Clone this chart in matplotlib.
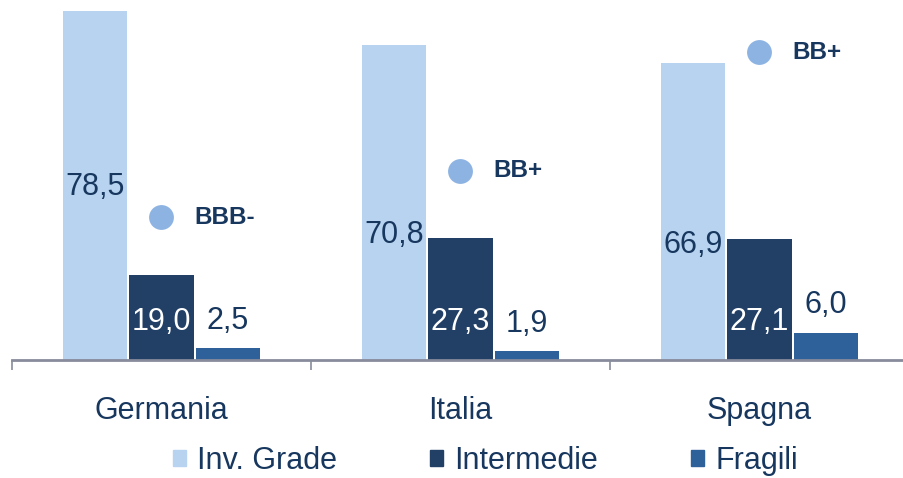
import numpy as np
import matplotlib.pyplot as plt
from matplotlib.patches import Patch

paesi = ['Germania', 'Italia', 'Spagna']
serie = ['Inv. Grade', 'Intermedie', 'Fragili']
inv_grade = [78.5, 70.8, 66.9]
intermedie = [19.0, 27.3, 27.1]
fragili = [2.5, 1.9, 6.0]
rating = ['BBB-', 'BB+', 'BB+']
rating_pos = [32.1, 42.5, 69.2]

c_light = '#B7D3F0'
c_dark = '#223F66'
c_mid = '#2E6099'
c_dot = '#8DB3E2'
c_text = '#17375E'

plt.rcParams['font.family'] = ['Liberation Sans', 'DejaVu Sans']

def fmt(v):
    return f'{v:.1f}'.replace('.', ',')

fig = plt.figure(figsize=(9.04, 4.78), dpi=100)
ax = fig.add_axes([12 / 904, 118.5 / 478, 897 / 904, 359.5 / 478])

x = np.arange(len(paesi))
w = 0.215
off = 0.222
ax.bar(x - off, inv_grade, w, color=c_light)
ax.bar(x, intermedie, w, color=c_dark)
ax.bar(x + off, fragili, w, color=c_mid)

# posizione etichette (come nel grafico originale)
y_lab_inv = [38.9, 28.0, 25.8]
for i in range(len(paesi)):
    ax.text(x[i] - off, y_lab_inv[i], fmt(inv_grade[i]), ha='center', va='center',
            fontsize=22, color=c_text)
    ax.text(x[i], 8.4, fmt(intermedie[i]), ha='center', va='center',
            fontsize=22, color='white')
    ax.text(x[i] + off, fragili[i] + 6.2, fmt(fragili[i]), ha='center', va='center',
            fontsize=22, color=c_text)

ax.scatter(x, rating_pos, s=320, color=c_dot, zorder=3, linewidths=0)
for i in range(len(paesi)):
    ax.text(x[i] + 0.11, rating_pos[i], rating[i], ha='left', va='center',
            fontsize=17.5, fontweight='bold', color=c_text)

ax.set_xlim(-0.5, 2.5)
ax.set_ylim(0, 81)
ax.set_yticks([])
for s in ['top', 'right', 'left']:
    ax.spines[s].set_visible(False)
ax.spines['bottom'].set_color('#878B9B')
ax.spines['bottom'].set_linewidth(2)
ax.set_xticks(x)
ax.set_xticklabels(paesi, fontsize=22, color=c_text)
ax.tick_params(axis='x', which='major', length=0, pad=26)
ax.set_xticks([-0.5, 0.5, 1.5, 2.5], minor=True)
ax.tick_params(axis='x', which='minor', length=7.5, width=1.2, color='#878B9B', direction='out')

handles = [Patch(color=c) for c in (c_light, c_dark, c_mid)]
fig.legend(handles, serie, loc='center', bbox_to_anchor=(0.537, 0.036), ncol=3,
           frameon=False, fontsize=22, handlelength=0.43, handleheight=0.43,
           handletextpad=0.36, columnspacing=3.05, labelcolor=c_text)

fig.savefig('out.png', dpi=100)
